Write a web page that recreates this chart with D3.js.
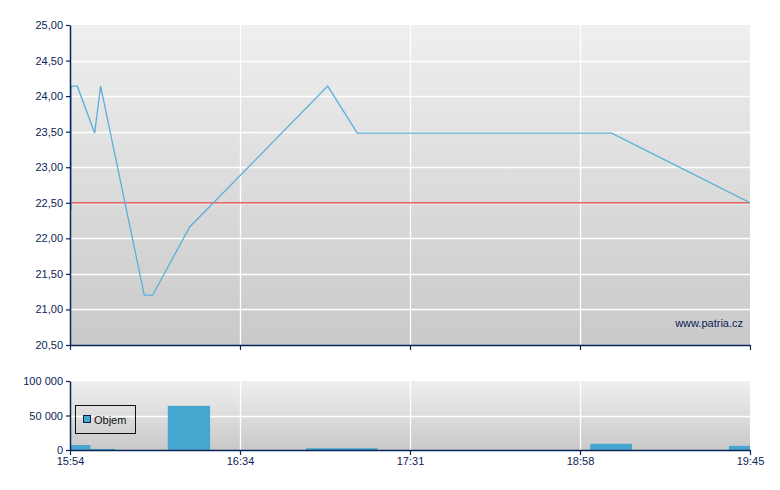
<!DOCTYPE html>
<html><head><meta charset="utf-8">
<script src="https://cdn.jsdelivr.net/npm/d3@7"></script>
<style>body{margin:0;background:#fff}svg{display:block}text{font-family:"Liberation Sans",Arial,sans-serif}</style>
</head><body><div id="c"></div>
<script>
// x positions are in "tick units": 0 = first tick label, 4 = last tick label
const timeTicks = ["15:54","16:34","17:31","18:58","19:45"];
const priceTicks = [20.5,21,21.5,22,22.5,23,23.5,24,24.5,25];
const volumeTicks = [0,50000,100000];
const priceX = [0.006,0.006,0.043,0.145,0.18,0.437,0.486,0.704,1.516,1.69,3.186,4.0];
const priceY = [22.4,24.14,24.14,23.48,24.14,21.2,21.2,22.16,24.14,23.48,23.48,22.5];
const prevClose = 22.5;
const volStart = [0,0.12,0.575,1.388,3.06,3.876];
const volEnd   = [0.12,0.265,0.824,1.81,3.306,4.0];
const volValue = [7200,1500,64000,2500,9000,6000];

const W=780,H=490, L=70, R=750;
const mainTop=25, mainBot=345, volTop=381, volBot=450;
const navy="#0b2457", lineCol="#5aafd8", barCol="#46a6cf";

const svg=d3.select("#c").append("svg").attr("width",W).attr("height",H);
const defs=svg.append("defs");
const g1=defs.append("linearGradient").attr("id","bg").attr("x1",0).attr("y1",0).attr("x2",0).attr("y2",1);
g1.append("stop").attr("offset","0%").attr("stop-color","#efefef");
g1.append("stop").attr("offset","100%").attr("stop-color","#c9c9c9");
defs.append("clipPath").attr("id","clipMain").append("rect").attr("x",L).attr("y",mainTop).attr("width",R-L).attr("height",mainBot-mainTop);

const x=d3.scaleLinear().domain([0,4]).range([L,R]);
const y=d3.scaleLinear().domain([20.5,25]).range([mainBot,mainTop]);
const yv=d3.scaleLinear().domain([0,100000]).range([volBot,volTop]);

function panel(top,bot,yScale,ticks){
  svg.append("rect").attr("x",L).attr("y",top).attr("width",R-L).attr("height",bot-top).attr("fill","url(#bg)");
  const gg=svg.append("g");
  gg.selectAll(".h").data(ticks.slice(1,-1)).join("line")
    .attr("x1",L).attr("x2",R).attr("y1",d=>Math.round(yScale(d))+0.5).attr("y2",d=>Math.round(yScale(d))+0.5)
    .attr("stroke","#fff").attr("stroke-width",1.3);
  gg.selectAll(".v").data([1,2,3]).join("line")
    .attr("x1",d=>x(d)+0.5).attr("x2",d=>x(d)+0.5).attr("y1",top).attr("y2",bot)
    .attr("stroke","#fff").attr("stroke-width",1.3);
}
panel(mainTop,mainBot,y,priceTicks);
panel(volTop,volBot,yv,volumeTicks);

// previous close line
svg.append("line").attr("x1",L).attr("x2",R).attr("y1",y(prevClose)).attr("y2",y(prevClose))
  .attr("stroke","#e03c3c").attr("stroke-width",1.2);

// price line
const pts=priceX.map((d,i)=>[d,priceY[i]]);
svg.append("path").datum(pts).attr("clip-path","url(#clipMain)")
  .attr("d",d3.line().x(d=>x(d[0])).y(d=>y(d[1])))
  .attr("fill","none").attr("stroke",lineCol).attr("stroke-width",1.3);

// volume bars
svg.append("g").selectAll("rect").data(volValue).join("rect")
  .attr("x",(d,i)=>x(volStart[i])).attr("width",(d,i)=>x(volEnd[i])-x(volStart[i]))
  .attr("y",d=>yv(d)).attr("height",d=>volBot-yv(d)).attr("fill",barCol);

// axes
const fmtP=d=>d3.format(".2f")(d).replace(".",",");
const fmtV=d=>d3.format(",")(d).replace(/,/g," ");
function styleAxis(g){
  g.selectAll("path.domain").attr("stroke",navy).attr("stroke-width",1.5);
  g.selectAll(".tick line").attr("stroke",navy).attr("stroke-width",1.2);
  g.selectAll(".tick text").attr("fill",navy).attr("font-size","11px").attr("font-family","Liberation Sans, Arial, sans-serif");
}
svg.append("g").attr("transform",`translate(${L},0)`)
  .call(d3.axisLeft(y).tickValues(priceTicks).tickFormat(fmtP).tickSize(4).tickPadding(3).tickSizeOuter(0)).call(styleAxis);
svg.append("g").attr("transform",`translate(0,${mainBot})`)
  .call(d3.axisBottom(x).tickValues([0,1,2,3,4]).tickFormat("").tickSize(5).tickSizeOuter(0)).call(styleAxis);
svg.append("g").attr("transform",`translate(${L},0)`)
  .call(d3.axisLeft(yv).tickValues(volumeTicks).tickFormat(fmtV).tickSize(4).tickPadding(3).tickSizeOuter(0)).call(styleAxis);
svg.append("g").attr("transform",`translate(0,${volBot})`)
  .call(d3.axisBottom(x).tickValues([0,1,2,3,4]).tickFormat((d,i)=>timeTicks[i]).tickSize(5).tickPadding(2).tickSizeOuter(0)).call(styleAxis);

// legend
const lg=svg.append("g");
lg.append("rect").attr("x",75.5).attr("y",405.5).attr("width",60).attr("height",28).attr("fill","none").attr("stroke","#111").attr("stroke-width",1);
lg.append("rect").attr("x",83.5).attr("y",415.5).attr("width",7).attr("height",7).attr("fill",barCol).attr("stroke","#0b2457").attr("stroke-width",1);
lg.append("text").attr("x",94).attr("y",424).attr("font-size","11px").attr("fill","#111").text("Objem");

// watermark
svg.append("text").attr("x",743).attr("y",327).attr("text-anchor","end").attr("font-size","11px").attr("fill",navy).text("www.patria.cz");
</script></body></html>
